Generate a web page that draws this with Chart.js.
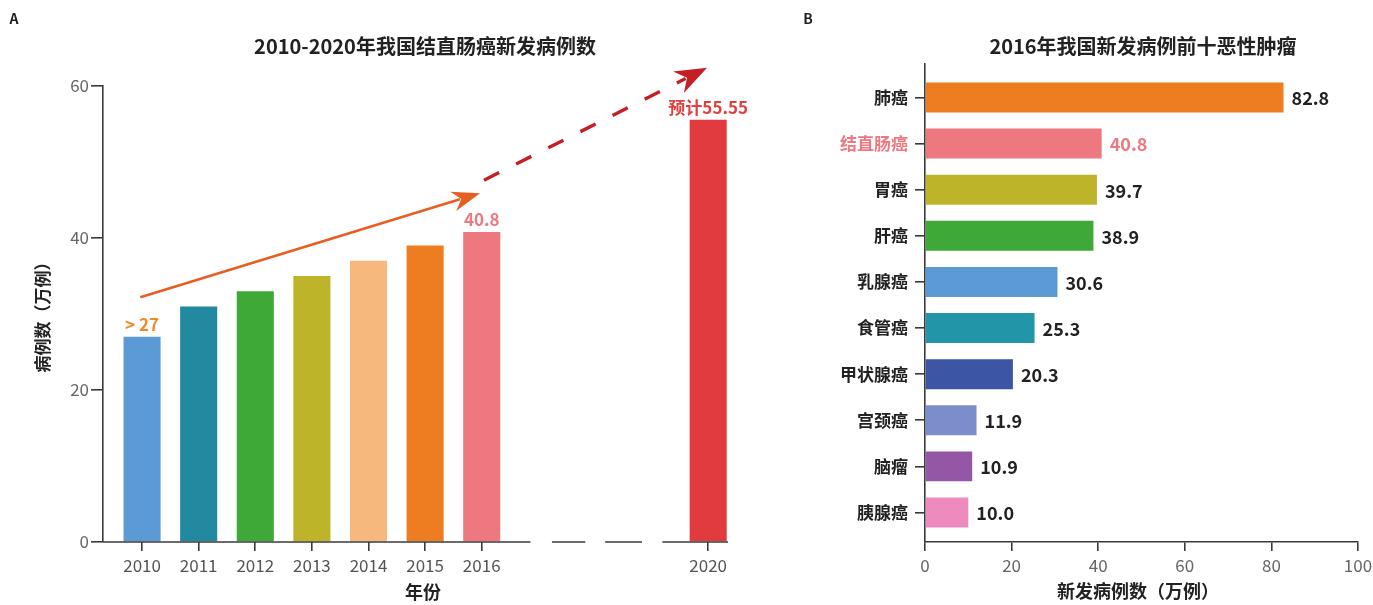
<!DOCTYPE html>
<html><head><meta charset="utf-8">
<script src="https://cdn.jsdelivr.net/npm/chart.js@4/dist/chart.umd.min.js"></script>
<style>
html,body{margin:0;padding:0;background:#fff;overflow:hidden;width:1373px;height:605px;}
#wrapA{position:absolute;left:0;top:0;width:760px;height:605px;}
#wrapB{position:absolute;left:760px;top:0;width:640px;height:605px;}
canvas{display:block;}
</style></head><body>
<div id="wrapA"><canvas id="cA" width="760" height="605"></canvas></div>
<div id="wrapB"><canvas id="cB" width="640" height="605"></canvas></div>
<script>
// ---- data (panel A) ----
const years = [2010, 2011, 2012, 2013, 2014, 2015, 2016, 2020];
const yearCases = [27, 31, 33, 35, 37, 39, 40.8, 55.55];
const yearBarLabels = ['> 27', '', '', '', '', '', '40.8', '预计55.55'];
const yearAxisTicks = [0, 20, 40, 60];
// ---- data (panel B) ----
const cancers = ['肺癌', '结直肠癌', '胃癌', '肝癌', '乳腺癌', '食管癌', '甲状腺癌', '宫颈癌', '脑瘤', '胰腺癌'];
const cancerCases = [82.8, 40.8, 39.7, 38.9, 30.6, 25.3, 20.3, 11.9, 10.9, 10.0];
const cancerAxisTicks = [0, 20, 40, 60, 80, 100];

// ---- styles ----
const FONT = '"Noto Sans CJK SC", "Noto Sans", sans-serif';
const yearColors = ['#5B9AD4', '#2389A0', '#3EA936', '#BDB42A', '#F6B87C', '#EE7D22', '#EE7880', '#E23B3F'];
const yearLabelColors = ['#F08A2B', '', '', '', '', '', '#EE7880', '#E2403F'];
const cancerColors = ['#EE7D22', '#EE7880', '#BDB42A', '#3EA936', '#5B9AD4', '#2196A8', '#3D55A5', '#7C8DCB', '#9457A6', '#EE8BBE'];
const AXIS = '#3a3a3a';
Chart.defaults.font.family = FONT;

function drawArrow(ctx, x1, y1, x2, y2, color, width, dash, headLen, headHalf) {
  const ang = Math.atan2(y2 - y1, x2 - x1);
  const bx = x2 - Math.cos(ang) * headLen * 0.75, by = y2 - Math.sin(ang) * headLen * 0.75;
  ctx.save();
  ctx.strokeStyle = color; ctx.lineWidth = width; ctx.lineCap = 'butt';
  ctx.setLineDash(dash || []);
  ctx.beginPath(); ctx.moveTo(x1, y1); ctx.lineTo(bx, by); ctx.stroke();
  ctx.setLineDash([]);
  const cx = x2 - Math.cos(ang) * headLen, cy = y2 - Math.sin(ang) * headLen;
  const px = -Math.sin(ang), py = Math.cos(ang);
  ctx.fillStyle = color;
  ctx.beginPath();
  ctx.moveTo(x2, y2);
  ctx.lineTo(cx + px * headHalf, cy + py * headHalf);
  ctx.lineTo(x2 - Math.cos(ang) * headLen * 0.7, y2 - Math.sin(ang) * headLen * 0.7);
  ctx.lineTo(cx - px * headHalf, cy - py * headHalf);
  ctx.closePath(); ctx.fill();
  ctx.restore();
}

// ---- Panel A ----
const panelA = {
  id: 'panelA',
  afterDatasetsDraw(chart) {
    const ctx = chart.ctx;
    const xs = chart.scales.x, ys = chart.scales.y;
    const meta = chart.getDatasetMeta(0);
    ctx.save();
    ctx.font = 'bold 17px ' + FONT;
    ctx.textAlign = 'center'; ctx.textBaseline = 'bottom';
    meta.data.forEach((bar, i) => {
      if (!yearBarLabels[i]) return;
      ctx.fillStyle = yearLabelColors[i];
      ctx.fillText(yearBarLabels[i], bar.x, bar.y - 4);
    });
    ctx.restore();
    drawArrow(ctx, xs.getPixelForValue(2009.97), ys.getPixelForValue(32.2),
      xs.getPixelForValue(2015.97), ys.getPixelForValue(45.9), '#E85E22', 2.6, null, 28, 10);
    drawArrow(ctx, xs.getPixelForValue(2016.04), ys.getPixelForValue(47.6),
      xs.getPixelForValue(2019.98), ys.getPixelForValue(62.4), '#C41E26', 3.4, [17, 19], 32, 12);
  },
  afterDraw(chart) {
    const ctx = chart.ctx;
    const xs = chart.scales.x;
    const ca = chart.chartArea;
    ctx.save();
    ctx.strokeStyle = AXIS; ctx.lineWidth = 1.6;
    const segs = [[null, 2016.86], [2017.24, 2017.83], [2018.18, 2018.83], [2019.19, null]];
    segs.forEach(s => {
      const a = s[0] === null ? ca.left : xs.getPixelForValue(s[0]);
      const b = s[1] === null ? ca.right : xs.getPixelForValue(s[1]);
      ctx.beginPath(); ctx.moveTo(a, ca.bottom); ctx.lineTo(b, ca.bottom); ctx.stroke();
    });
    ctx.fillStyle = '#222';
    ctx.textAlign = 'center'; ctx.textBaseline = 'middle';
    ctx.font = 'bold 20px ' + FONT;
    ctx.fillText('2010-2020年我国结直肠癌新发病例数', 425, 46);
    ctx.font = 'bold 18px ' + FONT;
    ctx.fillText('年份', 423, 592);
    ctx.save();
    ctx.translate(43, 313); ctx.rotate(-Math.PI / 2);
    ctx.font = 'bold 17px ' + FONT;
    ctx.fillText('病例数（万例）', 0, 0);
    ctx.restore();
    ctx.font = 'bold 14px ' + FONT;
    ctx.fillText('A', 14, 19);
    ctx.restore();
  }
};

new Chart(document.getElementById('cA'), {
  type: 'bar',
  data: {
    datasets: [{
      data: years.map((y, i) => ({ x: y, y: yearCases[i] })),
      backgroundColor: yearColors,
      barPercentage: 0.655, categoryPercentage: 1
    }]
  },
  options: {
    responsive: false, animation: false, devicePixelRatio: 1,
    layout: { padding: { top: 86, right: 32, left: 0, bottom: 0 } },
    plugins: { legend: { display: false }, tooltip: { enabled: false }, title: { display: false } },
    scales: {
      x: {
        type: 'linear', min: 2009.31, max: 2020.35, offset: false,
        afterBuildTicks: s => { s.ticks = years.map(v => ({ value: v })); },
        afterFit: s => { s.height = 63; },
        ticks: { callback: v => String(v), color: '#555', font: { size: 17 }, padding: 4, maxRotation: 0, autoSkip: false },
        grid: { display: true, offset: false, drawOnChartArea: false, drawTicks: true, tickLength: 9, color: AXIS, lineWidth: 1.6 },
        border: { display: false }
      },
      y: {
        min: 0, max: 60,
        afterBuildTicks: s => { s.ticks = yearAxisTicks.map(v => ({ value: v })); },
        afterFit: s => { s.width = 103; },
        ticks: { color: '#666', font: { size: 17 }, padding: 2 },
        grid: { display: true, drawOnChartArea: false, drawTicks: true, tickLength: 12, color: AXIS, lineWidth: 1.6 },
        border: { display: true, color: AXIS, width: 1.6 }
      }
    }
  },
  plugins: [panelA]
});

// ---- Panel B ----
const panelB = {
  id: 'panelB',
  afterDatasetsDraw(chart) {
    const ctx = chart.ctx;
    const meta = chart.getDatasetMeta(0);
    ctx.save();
    ctx.font = '600 18px ' + FONT;
    ctx.textAlign = 'left'; ctx.textBaseline = 'middle';
    meta.data.forEach((bar, i) => {
      ctx.fillStyle = i === 1 ? '#EE7880' : '#222';
      ctx.fillText(cancerCases[i].toFixed(1), bar.x + 8, bar.y + 1);
    });
    ctx.restore();
  },
  afterDraw(chart) {
    const ctx = chart.ctx;
    ctx.save();
    ctx.fillStyle = '#222';
    ctx.textAlign = 'center'; ctx.textBaseline = 'middle';
    ctx.font = 'bold 20px ' + FONT;
    ctx.fillText('2016年我国新发病例前十恶性肿瘤', 383, 46);
    ctx.font = 'bold 18px ' + FONT;
    ctx.fillText('新发病例数（万例）', 378, 591);
    ctx.font = 'bold 14px ' + FONT;
    ctx.fillText('B', 48, 19);
    ctx.restore();
  }
};

new Chart(document.getElementById('cB'), {
  type: 'bar',
  data: {
    datasets: [{
      data: cancers.map((c, i) => ({ x: cancerCases[i], y: i })),
      backgroundColor: cancerColors,
      barPercentage: 0.65, categoryPercentage: 1
    }]
  },
  options: {
    indexAxis: 'y',
    responsive: false, animation: false, devicePixelRatio: 1,
    layout: { padding: { top: 64, right: 42, left: 0, bottom: 0 } },
    plugins: { legend: { display: false }, tooltip: { enabled: false }, title: { display: false } },
    scales: {
      x: {
        type: 'linear', min: 0, max: 100, offset: false,
        afterBuildTicks: s => { s.ticks = cancerAxisTicks.map(v => ({ value: v })); },
        afterFit: s => { s.height = 63; },
        ticks: { color: '#666', font: { size: 17 }, padding: 4, maxRotation: 0, autoSkip: false },
        grid: { display: true, offset: false, drawOnChartArea: false, drawTicks: true, tickLength: 9, color: AXIS, lineWidth: 1.6 },
        border: { display: true, color: AXIS, width: 1.6 }
      },
      y: {
        type: 'linear', reverse: true, min: -0.726, max: 9.64, offset: false,
        afterBuildTicks: s => { s.ticks = cancers.map((c, i) => ({ value: i })); },
        afterFit: s => { s.width = 165; },
        ticks: {
          callback: v => cancers[v],
          color: ctx => (ctx.index === 1 ? '#EE7880' : '#222'),
          font: { size: 17, weight: 'bold' }, padding: 7, autoSkip: false
        },
        grid: { display: true, offset: false, drawOnChartArea: false, drawTicks: true, tickLength: 10, color: AXIS, lineWidth: 1.6 },
        border: { display: true, color: AXIS, width: 1.6 }
      }
    }
  },
  plugins: [panelB]
});
</script>
</body></html>
